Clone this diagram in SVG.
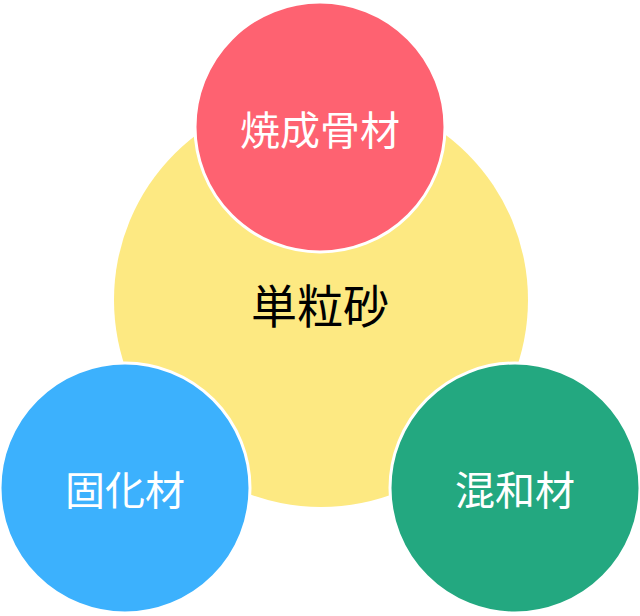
<svg xmlns="http://www.w3.org/2000/svg" width="640" height="616" viewBox="0 0 640 616">
<style>
.c{stroke:#fff;stroke-width:3}
.t{font-family:"Noto Sans CJK JP",sans-serif;text-anchor:middle;dominant-baseline:central}
.w{fill:#fff;font-size:40px}
</style>
<rect width="640" height="616" fill="#fff"/>
<g id="center"><circle cx="321" cy="300" r="207" fill="#FDE982"/><text class="t" x="320" y="303" font-size="46" fill="#000">単粒砂</text></g>
<g id="top"><circle class="c" cx="320" cy="127" r="125" fill="#FE6271"/><text class="t w" x="320" y="128">焼成骨材</text></g>
<g id="left"><circle class="c" cx="125" cy="488" r="125" fill="#3CB1FD"/><text class="t w" x="125" y="488">固化材</text></g>
<g id="right"><circle class="c" cx="515" cy="488" r="125" fill="#23A880"/><text class="t w" x="515" y="488">混和材</text></g>
<g id="connectors"/>
</svg>
